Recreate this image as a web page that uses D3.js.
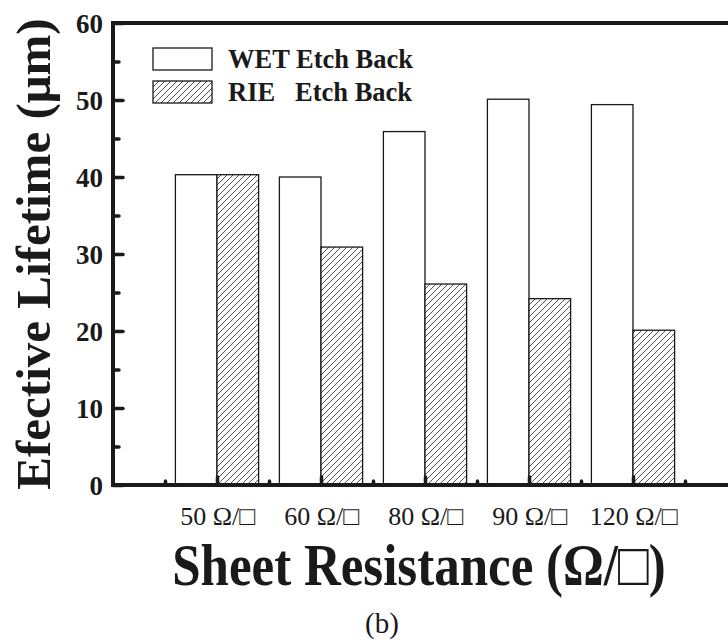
<!DOCTYPE html>
<html><head><meta charset="utf-8">
<script src="https://cdn.jsdelivr.net/npm/d3@7"></script>
<style>
html,body{margin:0;padding:0;background:#fff;}
svg{display:block;}
text{font-family:"Liberation Serif","Times New Roman",serif;fill:#1a1a1a;}
</style></head><body>
<svg id="chart" width="728" height="643"></svg>
<script>
const categories = ["50 Ω/□", "60 Ω/□", "80 Ω/□", "90 Ω/□", "120 Ω/□"];
const wetValues = [40.3, 40.0, 45.9, 50.1, 49.4];
const rieValues = [40.3, 30.9, 26.1, 24.2, 20.1];
const seriesNames = ["WET Etch Back", "RIE   Etch Back"];
const yTicks = [0, 10, 20, 30, 40, 50, 60];
const yMinorTicks = [5, 15, 25, 35, 45, 55];

const svg = d3.select("#chart");
const x = d3.scaleLinear().domain([0, 6]).range([113, 737]);
const y = d3.scaleLinear().domain([0, 60]).range([485, 23]);
const barW = 0.4;
const ink = "#1a1a1a";

// hatch pattern
const defs = svg.append("defs");
const P = 6;
const pat = defs.append("pattern").attr("id", "hatch").attr("patternUnits", "userSpaceOnUse")
  .attr("width", P).attr("height", P);
pat.append("rect").attr("width", P).attr("height", P).attr("fill", "#fff");
pat.append("path").attr("d", `M-1,1 L1,-1 M0,${P} L${P},0 M${P-1},${P+1} L${P+1},${P-1}`)
  .attr("stroke", "#333").attr("stroke-width", 0.85);

// bars
const idx = categories.map((c, i) => i + 1);
svg.append("g").selectAll("rect").data(wetValues).join("rect")
  .attr("x", (d, i) => x(idx[i] - barW))
  .attr("y", d => y(d))
  .attr("width", x(barW) - x(0))
  .attr("height", d => y(0) - y(d))
  .attr("fill", "#fff").attr("stroke", ink).attr("stroke-width", 1.3);
svg.append("g").selectAll("rect").data(rieValues).join("rect")
  .attr("x", (d, i) => x(idx[i]))
  .attr("y", d => y(d))
  .attr("width", x(barW) - x(0))
  .attr("height", d => y(0) - y(d))
  .attr("fill", "url(#hatch)").attr("stroke", ink).attr("stroke-width", 1.3);

// y axis
const yAxis = svg.append("g").attr("transform", `translate(${x(0)},0)`)
  .call(d3.axisLeft(y).tickValues(yTicks).tickSize(-10).tickPadding(10).tickFormat(d3.format("d")));
yAxis.select(".domain").remove();
yAxis.selectAll(".tick line").attr("stroke", ink).attr("stroke-width", 3.5).attr("stroke-linecap", "round");
yAxis.selectAll(".tick text").attr("font-size", 27).attr("font-weight", "bold")
  .attr("font-family", "Liberation Serif").attr("fill", ink).attr("dy", "0.35em");
const yMinor = svg.append("g").attr("transform", `translate(${x(0)},0)`)
  .call(d3.axisLeft(y).tickValues(yMinorTicks).tickSize(-6).tickFormat(""));
yMinor.select(".domain").remove();
yMinor.selectAll(".tick line").attr("stroke", ink).attr("stroke-width", 3.5).attr("stroke-linecap", "round");

// x axis
const xAxis = svg.append("g").attr("transform", `translate(0,${y(0)})`)
  .call(d3.axisBottom(x).tickValues(idx).tickSize(-8).tickPadding(22).tickFormat((d, i) => categories[i]));
xAxis.select(".domain").remove();
xAxis.selectAll(".tick line").attr("stroke", ink).attr("stroke-width", 3.5).attr("stroke-linecap", "round");
xAxis.selectAll(".tick text").attr("font-size", 26).attr("font-family", "Liberation Serif").attr("fill", ink);
const xMinor = svg.append("g").attr("transform", `translate(0,${y(0)})`)
  .call(d3.axisBottom(x).tickValues(idx.map(v => v - 0.5).concat([5.5])).tickSize(-4).tickFormat(""));
xMinor.select(".domain").remove();
xMinor.selectAll(".tick line").attr("stroke", ink).attr("stroke-width", 3.5).attr("stroke-linecap", "round");

// frame lines
svg.append("line").attr("x1", x(0)).attr("x2", 728).attr("y1", y(0)).attr("y2", y(0))
  .attr("stroke", ink).attr("stroke-width", 4);
svg.append("line").attr("x1", x(0)).attr("x2", 728).attr("y1", y(60)).attr("y2", y(60))
  .attr("stroke", ink).attr("stroke-width", 4);
svg.append("line").attr("x1", x(0)).attr("x2", x(0)).attr("y1", y(60) - 2).attr("y2", y(0) + 2)
  .attr("stroke", ink).attr("stroke-width", 4);

// legend
const leg = svg.append("g");
const legFills = ["#fff", "url(#hatch)"];
seriesNames.forEach((n, i) => {
  const yy = 48 + i * 33;
  leg.append("rect").attr("x", 153).attr("y", yy).attr("width", 59).attr("height", 22)
    .attr("fill", legFills[i]).attr("stroke", ink).attr("stroke-width", 1.3);
  leg.append("text").attr("x", 228).attr("y", yy + 20).attr("font-size", 26.5).attr("font-weight", "bold")
    .attr("xml:space", "preserve").style("white-space", "pre").text(n);
});

// axis titles
svg.append("text").attr("transform", "translate(50,254) rotate(-90)").attr("text-anchor", "middle")
  .attr("font-size", 49).attr("font-weight", "bold").text("Efective Lifetime (μm)");
svg.append("text").attr("transform", "translate(419,585) scale(0.85,1)").attr("text-anchor", "middle")
  .attr("font-size", 60).attr("font-weight", "bold").text("Sheet Resistance (Ω/□)");
svg.append("text").attr("x", 382).attr("y", 633).attr("text-anchor", "middle")
  .attr("font-size", 29).text("(b)");
</script></body></html>
